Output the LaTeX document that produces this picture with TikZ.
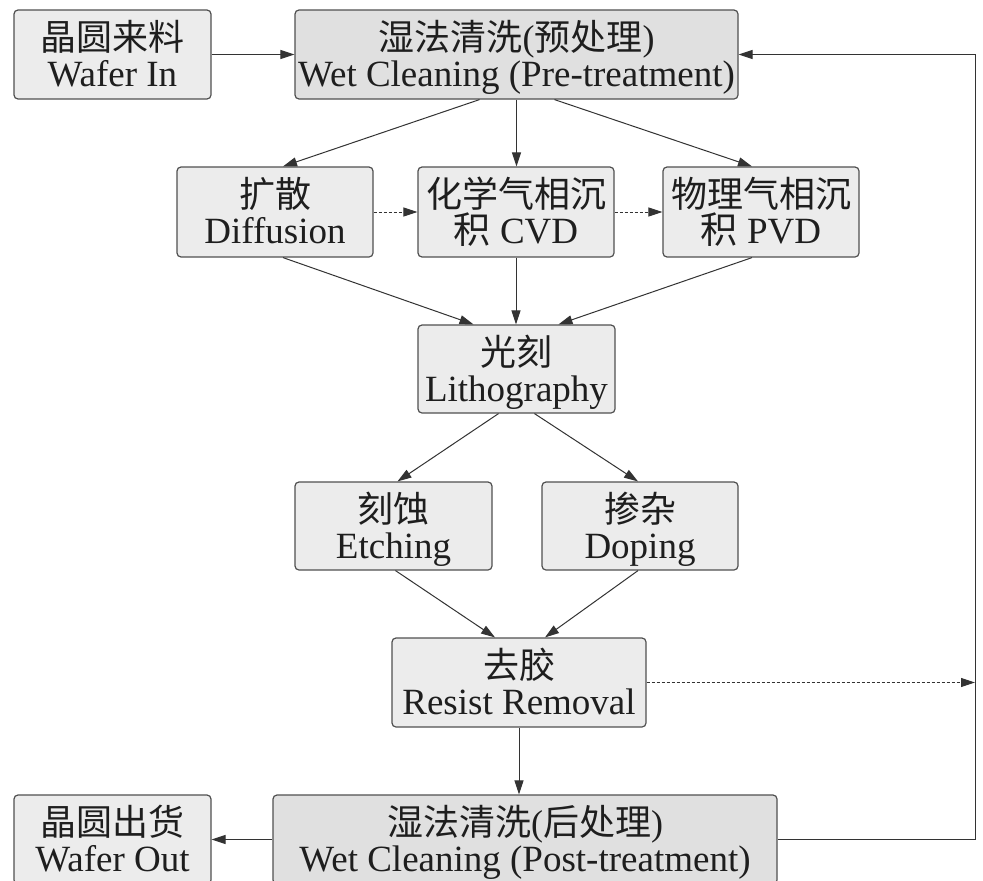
\documentclass[tikz,border=0pt]{standalone}
\usepackage{fontspec}
\setmainfont{Liberation Serif}
\newfontfamily\cjk{Noto Sans CJK SC}
\usetikzlibrary{arrows.meta}

\definecolor{edge}{HTML}{505050}
\definecolor{boxfill}{HTML}{ECECEC}
\definecolor{washfill}{HTML}{E0E0E0}
\definecolor{ink}{HTML}{1E1E1E}
\definecolor{wire}{HTML}{333333}

\tikzset{
  stage/.style={draw=edge, line width=1.2pt, rounded corners=4pt, fill=boxfill,
                inner sep=0pt, minimum height=89pt},
  washstage/.style={stage, fill=washfill},
  cnline/.style={anchor=base, inner sep=0pt, text=ink,
                 font=\cjk\fontsize{36pt}{40pt}\selectfont},
  enline/.style={anchor=base, inner sep=0pt, text=ink,
                 font=\fontsize{37pt}{40pt}\selectfont},
  flow/.style={draw=wire, line width=1pt, -{Triangle[length=14pt,width=9pt]}},
  optflow/.style={flow, dash pattern=on 3pt off 2pt},
}

% two-line caption inside a stage box: Chinese above, English below
\newcommand\stagetext[3]{%
  \node[cnline] at ([yshift=-41pt]#1.north) {#2};
  \node[enline] at ([yshift=-77.5pt]#1.north) {#3};
}

\begin{document}
\begin{tikzpicture}[x=1pt,y=-1pt]
  \useasboundingbox (0,0) rectangle (983,881);
  \fill[white] (0,0) rectangle (983,881);
  \clip (0,0) rectangle (983,881);

  % stages
  \node[stage, minimum width=197pt] (in) at (112.5,54.5) {};
  \node[washstage, minimum width=443pt] (pre) at (516.5,54.5) {};
  \node[stage, minimum width=196pt, minimum height=90pt] (diff) at (275,212) {};
  \node[stage, minimum width=196pt, minimum height=90pt] (cvd) at (516,212) {};
  \node[stage, minimum width=196pt, minimum height=90pt] (pvd) at (761,212) {};
  \node[stage, minimum width=197pt, minimum height=88pt] (litho) at (516.5,369) {};
  \node[stage, minimum width=197pt, minimum height=88pt] (etch) at (393.5,526) {};
  \node[stage, minimum width=196pt, minimum height=88pt] (dop) at (640,526) {};
  \node[stage, minimum width=254pt] (rr) at (519,682.5) {};
  \node[washstage, minimum width=504pt] (post) at (525,839.5) {};
  \node[stage, minimum width=197pt] (out) at (112.5,839.5) {};

  % captions
  \stagetext{in}{晶圆来料}{Wafer In}
  \stagetext{pre}{湿法清洗{\rmfamily(}预处理{\rmfamily)}}{Wet Cleaning (Pre-treatment)}
  \stagetext{diff}{扩散}{Diffusion}
  \stagetext{cvd}{化学气相沉}{{\cjk 积} CVD}
  \stagetext{pvd}{物理气相沉}{{\cjk 积} PVD}
  \stagetext{litho}{光刻}{Lithography}
  \stagetext{etch}{刻蚀}{Etching}
  \stagetext{dop}{掺杂}{Doping}
  \stagetext{rr}{去胶}{Resist Removal}
  \stagetext{post}{湿法清洗{\rmfamily(}后处理{\rmfamily)}}{Wet Cleaning (Post-treatment)}
  \stagetext{out}{晶圆出货}{Wafer Out}

  % return rail on the right
  \coordinate (railtop) at (975,54.5);

  % main flow
  \draw[flow] (in) -- (pre);
  \draw[flow] ([xshift=-37pt]pre.south) -- ([xshift=8pt]diff.north);
  \draw[flow] (pre.south) -- (pre.south |- cvd.north);
  \draw[flow] ([xshift=38pt]pre.south) -- ([xshift=-9pt]pvd.north);
  \draw[optflow] (diff) -- (cvd);
  \draw[optflow] (cvd) -- (pvd);
  \draw[flow] ([xshift=8pt]diff.south) -- ([xshift=-43pt]litho.north);
  \draw[flow] (cvd.south) -- (cvd.south |- litho.north);
  \draw[flow] ([xshift=-9pt]pvd.south) -- ([xshift=42pt]litho.north);
  \draw[flow] ([xshift=-18pt]litho.south) -- ([xshift=4pt]etch.north);
  \draw[flow] ([xshift=18pt]litho.south) -- ([xshift=-2pt]dop.north);
  \draw[flow] ([xshift=2pt]etch.south) -- ([xshift=-24pt]rr.north);
  \draw[flow] ([xshift=-2pt]dop.south) -- ([xshift=26pt]rr.north);
  \draw[optflow] (rr.east) -- (rr.east -| railtop);
  \draw[flow] (rr.south) -- (rr.south |- post.north);
  \draw[flow] (post) -- (out);
  \draw[flow] (post.east) -| (railtop) -- (pre.east);
\end{tikzpicture}
\end{document}
